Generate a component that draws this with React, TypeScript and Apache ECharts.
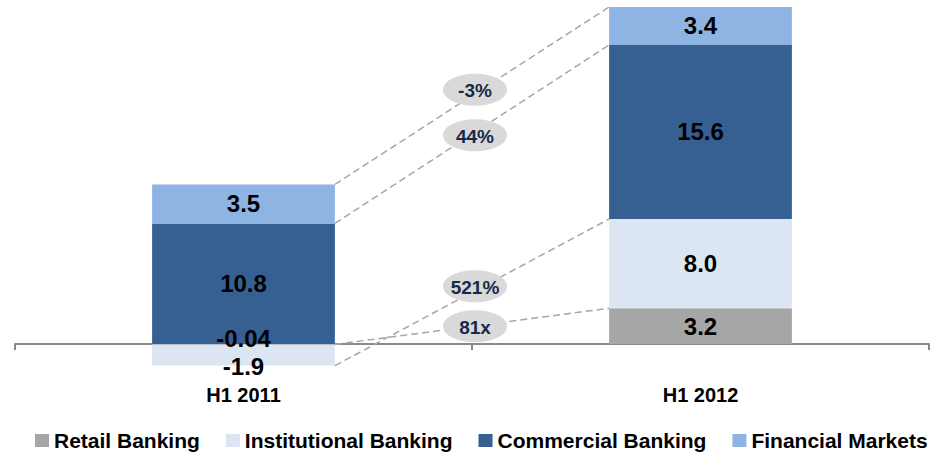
import React, { useEffect, useRef } from "react";
import * as echarts from "echarts";

const categories = ["H1 2011", "H1 2012"];
const seriesNames = ["Retail Banking", "Institutional Banking", "Commercial Banking", "Financial Markets"];
const retail = [-0.04, 3.2];
const institutional = [-1.9, 8.0];
const commercial = [10.8, 15.6];
const financialMarkets = [3.5, 3.4];
const growthLabels = ["-3%", "44%", "521%", "81x"];

const colors = ["#a6a6a6", "#dce6f2", "#376092", "#8eb4e3"];
const FONT = "'Liberation Sans', Arial, sans-serif";

export default function App() {
  const ref = useRef<HTMLDivElement>(null);
  useEffect(() => {
    if (!ref.current) return;
    const chart = echarts.init(ref.current, null, { renderer: "svg" });
    const values = [retail, institutional, commercial, financialMarkets];
    const labelOffsets: Record<string, number[]> = { "0-0": [0, -6], "1-0": [0, 11] };
    chart.setOption({
      animation: false,
      color: colors,
      grid: { left: 15, right: 9, top: 3.65, bottom: 63.4 },
      legend: {
        left: 30,
        top: 425,
        itemWidth: 14,
        itemHeight: 13,
        itemGap: 26,
        icon: "rect",
        data: seriesNames,
        textStyle: { fontFamily: FONT, fontWeight: "bold", fontSize: 21, color: "#000" },
      },
      xAxis: {
        type: "category",
        data: categories,
        axisLine: { lineStyle: { color: "#898989", width: 2 } },
        axisTick: { show: true, length: 6, lineStyle: { color: "#898989", width: 2 } },
        axisLabel: { margin: -4, fontFamily: FONT, fontWeight: "bold", fontSize: 20, color: "#000" },
      },
      yAxis: { type: "value", show: false, min: -4, max: 30.5, splitLine: { show: false } },
      series: seriesNames.map((name, si) => ({
        name,
        type: "bar",
        stack: "total",
        barWidth: "40%",
        itemStyle: { color: colors[si] },
        data: values[si].map((v, ci) => ({
          value: v,
          label: {
            show: true,
            position: "inside",
            offset: labelOffsets[`${si}-${ci}`] || [0, 0],
            formatter: (p: any) => (Math.abs(p.value) < 0.1 ? p.value.toFixed(2) : p.value.toFixed(1)),
            fontFamily: FONT,
            fontWeight: "bold",
            fontSize: 24,
            color: "#000",
          },
        })),
      })),
    });

    // connectors computed through the chart's own scales
    const x0 = chart.convertToPixel({ xAxisIndex: 0 }, 0) as number;
    const x1 = chart.convertToPixel({ xAxisIndex: 0 }, 1) as number;
    const half = ((x1 - x0) * 0.4) / 2;
    const y = (v: number) => chart.convertToPixel({ yAxisIndex: 0 }, v) as number;
    const pos = (ci: number) => {
      const r = retail[ci], ins = institutional[ci], c = commercial[ci], f = financialMarkets[ci];
      let posSum = 0, negSum = 0;
      const tops: number[] = [];
      [r, ins, c, f].forEach((v) => {
        if (v >= 0) { posSum += v; tops.push(posSum); } else { negSum += v; tops.push(negSum); }
      });
      return tops;
    };
    const a = pos(0), b = pos(1);
    const pairs = [
      [a[3], b[3]],
      [a[2], b[2]],
      [a[1], b[1]],
      [a[0], b[0]],
    ];
    const dy = [-6, 1, -6, 0];
    const graphics: any[] = [];
    pairs.forEach(([v0, v1], i) => {
      const p0 = [x0 + half, y(v0)];
      const p1 = [x1 - half, y(v1)];
      graphics.push({
        type: "line",
        z: 10,
        shape: { x1: p0[0], y1: p0[1], x2: p1[0], y2: p1[1] },
        style: { stroke: "#a6a6a6", lineWidth: 1.5, lineDash: [7, 4] },
      });
      const cx = (p0[0] + p1[0]) / 2 + 3;
      const cy = (p0[1] + p1[1]) / 2 + dy[i];
      graphics.push({
        type: "ellipse",
        z: 11,
        shape: { cx, cy, rx: 32, ry: 16 },
        style: { fill: "#d9d9d9" },
      });
      graphics.push({
        type: "text",
        z: 12,
        style: {
          text: growthLabels[i],
          x: cx,
          y: cy + 1,
          align: "center",
          verticalAlign: "middle",
          fontFamily: FONT,
          fontWeight: "bold",
          fontSize: 19,
          fill: "#17294a",
        },
      });
    });
    chart.setOption({ graphic: graphics });
    return () => chart.dispose();
  }, []);
  return <div ref={ref} style={{ position: "absolute", left: 0, top: 0, width: 938, height: 452 }} />;
}
